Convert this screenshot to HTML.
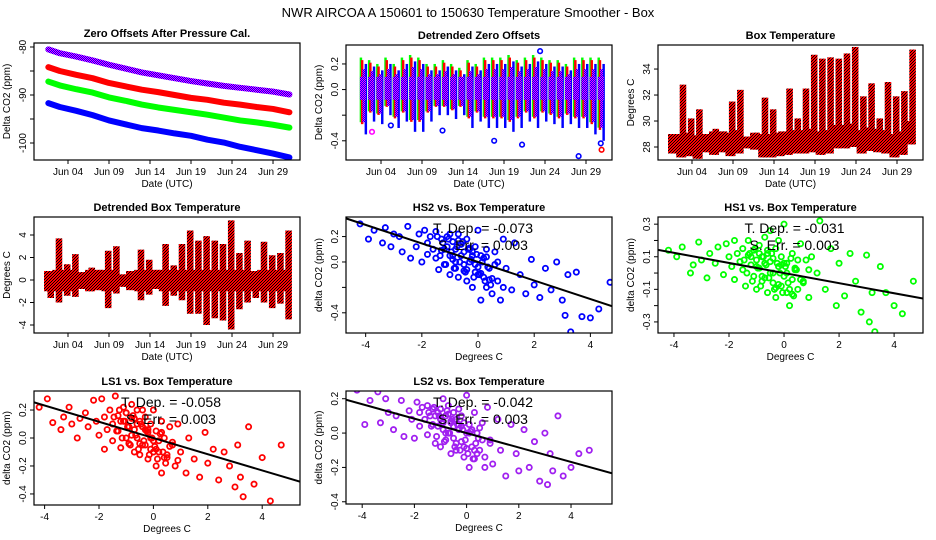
<!DOCTYPE html>
<html><head><meta charset="utf-8"><style>
html,body{margin:0;padding:0;background:#fff;}
svg{display:block;font-family:"Liberation Sans",sans-serif;}
</style></head><body>
<svg id="c" width="936" height="540" viewBox="0 0 936 540">
<defs>
<pattern id="redblk" width="3" height="3" patternUnits="userSpaceOnUse"><rect width="3" height="3" fill="#ff0000"/><rect x="1" y="1" width="1" height="1" fill="#000"/><rect x="0" y="2" width="1" height="1" fill="#000"/><rect x="2" y="0" width="1" height="1" fill="#000"/></pattern>
<pattern id="purp" width="2" height="2" patternUnits="userSpaceOnUse"><rect width="2" height="2" fill="#ff00ff"/><rect x="1" y="0" width="1" height="1" fill="#0000ff"/><rect x="0" y="1" width="1" height="1" fill="#0000ff"/></pattern>
</defs>
<text x="468" y="17" text-anchor="middle" font-size="13">NWR   AIRCOA A   150601 to 150630   Temperature Smoother - Box</text>
</svg>
<script>
// ---- Data ----
const trendDays = [1.6,3,5,7,9,11,13,15,17,19,21,23,25,27,29,31];
const ls2Offset = [-80.5,-81.3,-82.0,-82.8,-83.7,-84.5,-85.3,-85.9,-86.5,-87.1,-87.6,-88.1,-88.5,-88.9,-89.3,-89.9];
const ls1Offset = [-84.2,-85.0,-85.8,-86.5,-87.5,-88.2,-88.9,-89.4,-90.0,-90.6,-91.0,-91.6,-92.0,-92.5,-92.9,-93.6];
const hs1Offset = [-87.2,-88.0,-88.8,-89.5,-90.5,-91.2,-92.0,-92.6,-93.1,-93.6,-94.1,-94.7,-95.3,-95.7,-96.2,-96.8];
const hs2Offset = [-91.7,-92.5,-93.3,-94.2,-95.3,-96.1,-96.9,-97.4,-98.0,-98.5,-99.3,-99.9,-100.8,-101.5,-102.2,-103.0];

const dayIndex = [1,2,3,4,5,6,7,8,9,10,11,12,13,14,15,16,17,18,19,20,21,22,23,24,25,26,27,28,29,30];
const offHi = [0.2,0.18,0.15,0.2,0.15,0.2,0.22,0.2,0.15,0.15,0.18,0.15,0.12,0.18,0.15,0.2,0.2,0.2,0.22,0.18,0.2,0.22,0.2,0.18,0.18,0.15,0.2,0.2,0.2,0.2];
const offLo = [-0.3,-0.2,-0.22,-0.15,-0.25,-0.2,-0.28,-0.28,-0.2,-0.15,-0.15,-0.18,-0.15,-0.25,-0.2,-0.25,-0.25,-0.25,-0.28,-0.25,-0.2,-0.25,-0.2,-0.22,-0.25,-0.22,-0.25,-0.25,-0.3,-0.35];
const outDays = [2.9,5.2,11.5,17.8,21.2,23.4,28.1,30.9,30.8];
const outVals = [-0.33,-0.28,-0.32,-0.4,-0.43,0.3,-0.52,-0.47,-0.42];
const outColors = ['#ff00ff','#0000ff','#0000ff','#0000ff','#0000ff','#0000ff','#0000ff','#ff0000','#0000ff'];

const tempMax = [29.0,32.8,30.2,30.9,29.0,29.4,29.2,31.5,32.4,28.8,29.1,31.8,30.9,29.2,32.5,30.2,32.5,35.1,34.8,34.9,34.8,35.2,35.7,31.9,32.9,30.2,33.0,31.9,32.3,35.5];
const tempMin = [27.5,27.2,27.3,27.1,27.6,27.4,27.6,27.3,27.5,27.9,27.8,27.2,27.2,27.3,27.4,27.5,27.5,27.6,27.4,27.5,27.9,27.9,28.0,27.5,27.7,27.6,27.5,27.2,27.4,28.2];
const detMax = [0.8,3.7,1.4,2.3,0.7,1.1,0.9,2.6,3.0,0.5,0.8,2.7,1.8,0.9,3.2,1.3,3.2,4.4,3.5,3.9,3.5,3.2,5.3,2.4,3.5,0.8,3.4,2.2,2.4,4.4];
const detMin = [-1.6,-2.0,-1.4,-1.5,-0.8,-1.0,-0.9,-2.5,-1.2,-0.6,-0.9,-1.8,-1.3,-0.8,-2.3,-1.4,-1.8,-3.0,-3.0,-4.0,-3.4,-3.6,-4.4,-2.6,-2.0,-1.6,-2.0,-2.5,-2.1,-3.5];

const scatterX = [-4.2,-3.9,-3.7,-3.4,-3.3,-3.1,-3.0,-2.8,-2.7,-2.5,-2.4,-2.2,-2.1,-2.0,-1.9,-1.8,-1.8,-1.7,-1.6,-1.5,-1.5,-1.4,-1.3,-1.3,-1.2,-1.1,-1.1,-1.0,-1.0,-0.9,-0.9,-0.8,-0.8,-0.7,-0.7,-0.6,-0.6,-0.5,-0.5,-0.4,-0.4,-0.3,-0.3,-0.2,-0.2,-0.1,-0.1,0.0,0.0,0.1,0.1,0.2,0.3,0.3,0.4,0.5,0.6,0.7,0.8,0.9,1.0,1.2,1.3,1.5,1.7,1.9,2.0,2.2,2.4,2.6,2.8,3.0,3.1,3.2,3.3,3.5,3.7,4.0,4.3,4.7,
 -1.45,-1.35,-1.25,-1.15,-1.05,-0.95,-0.85,-0.75,-0.65,-0.55,-0.45,-0.35,-0.25,-0.15,-0.05,0.05,0.15,0.25,0.35,0.45,-1.2,-1.0,-0.8,-0.6,-0.4,-0.2,0.0,0.2,0.4,0.6,-0.9,-0.7,-0.5,-0.3,-0.1,0.1,0.3,0.5,0.7,0.9];
const hs2Y = [0.3,0.18,0.25,0.15,0.27,0.12,0.22,0.2,0.08,0.28,0.03,0.12,0.22,0.0,0.25,0.15,0.06,0.2,0.1,0.24,0.03,-0.06,0.18,0.09,-0.02,0.2,0.12,0.05,-0.1,0.16,0.02,-0.05,0.1,0.22,-0.12,0.05,0.14,-0.02,0.08,0.18,-0.15,0.0,0.1,-0.2,0.05,0.12,-0.08,0.25,-0.04,-0.3,0.05,-0.12,0.1,-0.2,-0.05,-0.25,0.08,-0.15,-0.3,0.18,-0.05,-0.22,0.15,-0.1,-0.25,0.02,-0.18,-0.28,-0.05,-0.22,0.0,-0.3,-0.42,-0.1,-0.55,-0.08,-0.43,-0.44,-0.37,-0.16,
 0.2,0.05,0.15,-0.02,0.18,0.08,-0.05,0.12,0.0,0.16,-0.08,0.1,0.02,-0.12,0.06,-0.1,0.0,-0.15,-0.04,-0.18,0.1,0.22,0.0,0.14,-0.06,0.08,-0.1,0.03,-0.14,-0.02,0.05,0.17,-0.07,0.11,-0.02,-0.09,0.04,-0.13,0.0,-0.2];
const hs1Y = [0.14,0.1,0.16,0.0,0.05,0.19,0.08,-0.03,0.12,0.06,0.16,-0.01,0.18,0.1,0.04,0.2,-0.04,0.12,0.07,0.15,0.02,-0.08,0.11,0.2,0.05,-0.02,0.14,0.08,-0.1,0.17,0.03,0.1,-0.05,0.22,0.06,-0.12,0.12,0.0,0.26,-0.06,0.09,0.15,-0.15,0.04,0.2,-0.08,0.1,0.3,-0.02,-0.12,0.06,-0.2,0.12,-0.04,0.02,-0.1,0.18,-0.06,0.08,-0.15,0.1,0.0,0.32,-0.1,0.15,-0.2,0.06,-0.14,0.12,-0.05,-0.24,0.11,-0.3,-0.12,-0.36,0.04,-0.12,-0.2,-0.25,-0.05,
 0.08,0.0,0.12,-0.05,0.15,0.03,-0.08,0.1,0.05,-0.03,0.12,-0.1,0.06,0.0,-0.12,0.04,-0.06,0.09,-0.14,0.02,0.1,0.04,-0.02,0.14,0.0,-0.07,0.06,-0.1,0.03,-0.04,0.12,-0.03,0.07,-0.09,0.05,0.0,-0.13,0.08,-0.05,0.02];
const ls1Y = [0.22,0.28,0.11,0.06,0.15,0.22,0.1,0.0,0.14,0.18,0.08,0.27,0.12,0.02,0.28,-0.08,0.15,0.06,0.2,0.1,-0.02,0.3,0.16,0.05,-0.07,0.22,0.12,0.0,0.18,0.08,-0.04,0.14,0.24,-0.1,0.06,0.2,0.0,0.12,-0.12,0.08,0.2,-0.05,0.15,-0.15,0.04,0.1,-0.08,0.2,-0.02,-0.2,0.05,-0.1,0.12,-0.25,0.0,-0.14,0.08,-0.05,-0.2,0.1,-0.1,-0.25,0.0,-0.15,-0.28,0.04,-0.18,-0.08,-0.3,-0.1,-0.2,-0.35,-0.05,-0.28,-0.42,0.08,-0.33,-0.14,-0.45,-0.05,
 0.15,0.05,0.2,0.0,0.12,0.08,-0.05,0.16,0.02,-0.08,0.1,-0.02,0.05,-0.12,0.0,-0.06,-0.15,0.03,-0.1,-0.18,0.12,0.18,0.02,0.1,-0.05,0.06,-0.1,-0.02,-0.14,-0.06,0.08,0.14,-0.04,0.06,0.0,-0.08,0.04,-0.12,-0.03,-0.16];
const ls2Y = [0.25,0.05,0.19,0.24,0.06,0.2,0.12,0.02,0.1,0.19,-0.02,0.13,0.08,-0.03,0.18,0.12,0.04,0.15,0.08,0.16,-0.01,0.1,0.05,0.14,-0.06,0.12,0.04,0.08,-0.08,0.2,0.02,0.1,-0.04,0.16,0.0,0.06,-0.12,0.12,0.04,-0.1,0.08,0.02,0.14,-0.05,0.1,-0.14,0.06,0.0,0.22,-0.2,0.05,-0.08,0.12,-0.15,0.0,-0.1,0.06,-0.2,0.15,-0.04,-0.18,0.08,-0.1,-0.25,0.05,-0.12,-0.22,0.02,-0.2,-0.05,-0.28,0.0,-0.3,-0.12,-0.22,0.1,-0.25,-0.2,-0.12,-0.1,
 0.12,0.04,0.15,-0.02,0.1,0.06,-0.05,0.13,0.0,0.08,-0.08,0.05,-0.1,0.02,-0.04,-0.12,0.01,-0.15,-0.06,-0.03,0.1,0.14,0.0,0.07,-0.06,0.04,-0.09,0.02,-0.12,-0.04,0.06,0.11,-0.03,0.05,-0.08,0.0,-0.1,0.03,-0.14,-0.06];
const fitSlopes = [-0.073,-0.031,-0.058,-0.042];
const fitLabels = ["-0.073","-0.031","-0.058","-0.042"];
const errLabels = ["0.003","0.003","0.003","0.003"];
const dateTicks = [4,9,14,19,24,29];
const dateTickLabels = ["Jun 04","Jun 09","Jun 14","Jun 19","Jun 24","Jun 29"];
const degTicks = [-4,-2,0,2,4];

// ---- Helpers ----
const svg = document.getElementById('c');
const NS = 'http://www.w3.org/2000/svg';
function mk(tag, attrs, parent){
  const e = document.createElementNS(NS, tag);
  for (const k in attrs) e.setAttribute(k, attrs[k]);
  (parent||svg).appendChild(e);
  return e;
}
function scale(d0,d1,r0,r1){ return v => r0 + (v-d0)/(d1-d0)*(r1-r0); }

function panel(name, box, xd, yd, title, xlab, ylab, xticks, xtlabels, yticks, ylabels){
  const g = mk('g', {});
  
  
  const [x0,y0,x1,y1] = box;
  const sx = scale(xd[0],xd[1],x0,x1), sy = scale(yd[0],yd[1],y1,y0);
  const plot = mk('g', {}, g);
  
  
  const clipId = 'clip-' + name;
  const cp = mk('clipPath', {id: clipId}, g);
  mk('rect', {x:x0, y:y0, width:x1-x0, height:y1-y0}, cp);
  plot.setAttribute('clip-path', 'url(#' + clipId + ')');
  const frame = mk('rect', {x:x0, y:y0, width:x1-x0, height:y1-y0, fill:'none', stroke:'#000', 'stroke-width':1.2}, g);
  
  
  const t = mk('text', {x:(x0+x1)/2, y:y0-6, 'text-anchor':'middle', 'font-size':11, 'font-weight':'bold'}, g);
  t.textContent = title;
  
  
  const xa = mk('g', {}, g);
  
  
  xticks.forEach((v,i) => {
    const px = sx(v);
    mk('line', {x1:px, x2:px, y1:y1, y2:y1+4, stroke:'#000'}, xa);
    const tl = mk('text', {x:px, y:y1+15, 'text-anchor':'middle', 'font-size':10}, xa);
    tl.textContent = xtlabels[i];
    
    
  });
  const xl = mk('text', {x:(x0+x1)/2, y:y1+27, 'text-anchor':'middle', 'font-size':10}, g);
  xl.textContent = xlab;
  
  
  const ya = mk('g', {}, g);
  
  
  yticks.forEach((v,i) => {
    const py = sy(v);
    mk('line', {x1:x0-4, x2:x0, y1:py, y2:py, stroke:'#000'}, ya);
    if (ylabels[i] !== '') {
      const tl = mk('text', {x:x0-8, y:py, 'text-anchor':'middle', 'font-size':10, transform:'rotate(-90 '+(x0-8)+' '+py+')'}, ya);
      tl.textContent = ylabels[i];
      
      
    }
  });
  const yc = (y0+y1)/2, yx = x0-24;
  const yl = mk('text', {x:yx, y:yc, 'text-anchor':'middle', 'font-size':10, transform:'rotate(-90 '+yx+' '+yc+')'}, g);
  yl.textContent = ylab;
  
  
  return {g:plot, sx, sy, box};
}

function columns(p, lo, hi, fill, off, wd, name){
  dayIndex.forEach((k,i) => {
    const xa = p.sx(k + 0.9 + off - wd/2), xb = p.sx(k + 0.9 + off + wd/2);
    const r = mk('rect', {x:xa, y:p.sy(hi[i]), width:xb-xa, height:Math.max(1,p.sy(lo[i])-p.sy(hi[i])), fill:fill}, p.g);
    
    
  });
}

// ---- Panel 1: Zero offsets ----
const p1 = panel('zero-offsets-panel',[34,43,300,160],[-0.146,32.29],[-103.54,-79.17],'Zero Offsets After Pressure Cal.','Date (UTC)','Delta CO2 (ppm)',dateTicks,dateTickLabels,[-80,-85,-90,-95,-100],['-80','','-90','','-100']);
[[hs2Offset,'#0000ff','hs2-offset-series'],[hs1Offset,'#00ff00','hs1-offset-series'],[ls1Offset,'#ff0000','ls1-offset-series'],[ls2Offset,'url(#purp)','ls2-offset-series']].forEach(s => {
  const pts = trendDays.map((d,i) => p1.sx(d)+','+p1.sy(s[0][i])).join(' ');
  const pl = mk('polyline', {points:pts, fill:'none', stroke:s[1], 'stroke-width':6, 'stroke-linejoin':'round', 'stroke-linecap':'round'}, p1.g);
  
  
});

// ---- Panel 2: Detrended zero offsets ----
const p2 = panel('detrended-offsets-panel',[346,45,612,160],[-0.27,32.17],[-0.55,0.348],'Detrended Zero Offsets','Date (UTC)','Delta CO2 (ppm)',dateTicks,dateTickLabels,[0.2,0,-0.2,-0.4],['0.2','0.0','','-0.4']);
columns(p2, offLo.map(v=>v*0.85), offHi.map(v=>v+0.05), '#00ff00', -0.35, 0.3, 'hs1-detrended-column');
columns(p2, offLo.map(v=>v-0.05), offHi.map(v=>v), '#0000ff', 0.25, 0.3, 'hs2-detrended-column');
columns(p2, offLo.map(v=>v*0.9), offHi.map(v=>v+0.03), '#ff0000', -0.2, 0.3, 'ls1-detrended-column');
columns(p2, dayIndex.map(()=>-0.08), dayIndex.map(()=>0.1), 'url(#purp)', -0.1, 0.75, 'detrended-offsets-core');
columns(p2, offLo.map(v=>v*0.85), offHi.map(v=>v*0.8), 'url(#purp)', 0.0, 0.35, 'ls2-detrended-column');
outDays.forEach((d,i) => {
  const c = mk('circle', {cx:p2.sx(d), cy:p2.sy(outVals[i]), r:2.3, fill:'none', stroke:outColors[i], 'stroke-width':1.6}, p2.g);
  
  
});

// ---- Panel 3: Box temperature ----
const p3 = panel('box-temperature-panel',[658,45,923,160],[-0.146,32.17],[27.0,35.85],'Box Temperature','Date (UTC)','Degrees C',dateTicks,dateTickLabels,[28,30,32,34],['28','30','32','34']);
columns(p3, tempMin, tempMin.map((v,i)=>Math.min(tempMax[i], v+1.8)), 'url(#redblk)', -0.3, 1.05, 'box-temp-base');
columns(p3, tempMin, tempMax, 'url(#redblk)', 0, 0.8, 'box-temp-column');

// ---- Panel 4: Detrended box temperature ----
const p4 = panel('detrended-box-temp-panel',[34,217,300,333],[-0.146,32.29],[-4.71,5.6],'Detrended Box Temperature','Date (UTC)','Degrees C',dateTicks,dateTickLabels,[-4,-2,0,2,4],['-4','-2','0','2','4']);
columns(p4, detMin.map(v=>Math.max(v,-1.0)), detMax.map(v=>Math.min(v,0.9)), 'url(#redblk)', -0.3, 1.05, 'detrended-temp-base');
columns(p4, detMin, detMax, 'url(#redblk)', 0, 0.8, 'detrended-temp-column');

// ---- Scatter panels ----
function scatter(name, box, xd, yd, title, ys, color, fitIdx, yticks, ylabels){
  const p = panel(name, box, xd, yd, title, 'Degrees C', 'delta CO2 (ppm)', degTicks, degTicks.map(String), yticks, ylabels);
  scatterX.forEach((x,i) => {
    const c = mk('circle', {cx:p.sx(x), cy:p.sy(ys[i]), r:2.6, fill:'none', stroke:color, 'stroke-width':1.8}, p.g);
    
    
  });
  const s = fitSlopes[fitIdx];
  const ln = mk('line', {x1:p.sx(xd[0]), y1:p.sy(s*xd[0]), x2:p.sx(xd[1]), y2:p.sy(s*xd[1]), stroke:'#000', 'stroke-width':2}, p.g);
  
  
  const cx = (box[0]+box[2])/2 + 4;
  const a = mk('text', {x:cx, y:box[1]+16, 'text-anchor':'middle', 'font-size':14}, p.g.parentNode);
  a.textContent = 'T. Dep. =  ' + fitLabels[fitIdx];
  
  
  const b = mk('text', {x:cx, y:box[1]+33, 'text-anchor':'middle', 'font-size':14}, p.g.parentNode);
  b.textContent = 'S. Err. = ' + errLabels[fitIdx];
  
  
}
scatter('hs2-vs-temp-panel',[346,217,612,333],[-4.7,4.77],[-0.559,0.354],'HS2 vs. Box Temperature',hs2Y,'#0000ff',0,[0.2,0,-0.2,-0.4],['0.2','0.0','','-0.4']);
scatter('hs1-vs-temp-panel',[658,217,923,333],[-4.58,5.05],[-0.368,0.344],'HS1 vs. Box Temperature',hs1Y,'#00ff00',1,[0.3,0.2,0.1,0,-0.1,-0.2,-0.3],['0.3','','0.1','','-0.1','','-0.3']);
scatter('ls1-vs-temp-panel',[34,391,300,505],[-4.39,5.39],[-0.479,0.336],'LS1 vs. Box Temperature',ls1Y,'#ff0000',2,[0.2,0,-0.2,-0.4],['0.2','0.0','-0.2','-0.4']);
scatter('ls2-vs-temp-panel',[346,391,612,504],[-4.62,5.57],[-0.413,0.245],'LS2 vs. Box Temperature',ls2Y,'#a020f0',3,[0.2,0,-0.2,-0.4],['0.2','0.0','-0.2','-0.4']);
</script>
</body></html>
